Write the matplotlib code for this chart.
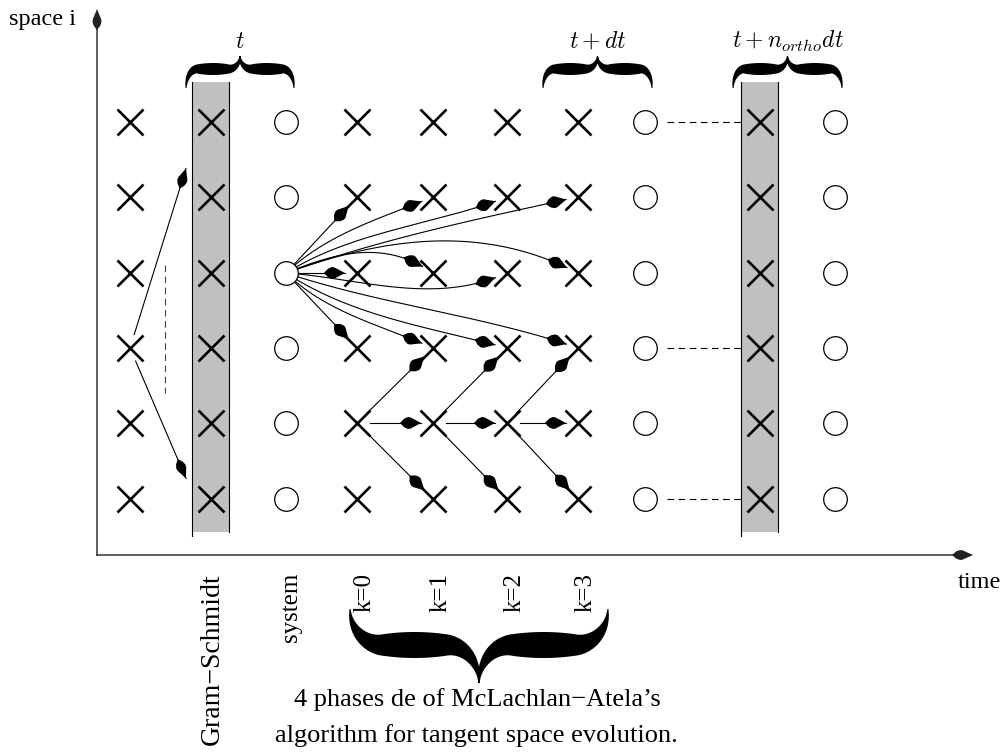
import numpy as np
import matplotlib.pyplot as plt

plt.rcParams['font.family'] = ['Liberation Serif', 'DejaVu Serif']
plt.rcParams['mathtext.fontset'] = 'cm'

# -------------------------------
# diagram data (canvas pixels, y grows downward)
# -------------------------------
col_x = [130, 211, 286, 357, 433, 507, 578, 645, 760, 835]
col_kind = ['x', 'x', 'o', 'x', 'x', 'x', 'x', 'o', 'x', 'o']
row_y = [122, 197, 273, 348, 423, 499]

gs_cols = [1, 8]            # Gram-Schmidt columns (gray bands)
sys_col, sys_row = 2, 2     # node the fan starts from

# fan from the system node: target column / row, bend at 1/3 and 2/3
fan_col = [3, 4, 5, 6, 3, 4, 5, 6, 3, 4, 5, 6]
fan_row = [1, 1, 1, 1, 2, 2, 2, 2, 3, 3, 3, 3]
fan_b1 = [0, 16, 18, 9, 0, 20, -5, 35, 0, -17, -20, -7]
fan_b2 = [0, 5, -3, 4, 0, 34, -33, 50, 0, -3, -5, 8]

# McLachlan-Atela phases: (k, row 4) -> (k+1, rows 3, 4, 5)
phase_cols = [3, 4, 5]
phase_src_row = 4
phase_dst_rows = [3, 4, 5]

# projection arrows left of the first band (fractional rows)
gs_src_row = 3
gs_dst_rows = [0.62, 4.73]
gs_dash_rows = [1.9, 3.6]

# dashed links to the second band
link_rows = [0, 3, 5]

col_labels = ['Gram\u2212Schmidt', 'system', 'k=0', 'k=1', 'k=2', 'k=3']
col_label_x = [212, 291, 365, 441, 515, 586]
col_label_size = [20, 18, 18, 18, 18, 18]

brace_labels = [r'$t$', r'$t + dt$', r'$t + n_{ortho}dt$']
brace_x0 = [186, 543, 733]
brace_x1 = [294, 652, 842]

bottom_text = ['4 phases de of McLachlan\u2212Atela\u2019s',
               'algorithm for tangent space evolution.']


def row_at(r):
    return np.interp(r, np.arange(len(row_y)), row_y)


def kite(ax, tip, direction, length, width, color='k'):
    u = np.asarray(direction, float)
    u = u / np.hypot(*u)
    v = np.array([-u[1], u[0]])
    shape = [(0, 0), (-0.5, 0.47), (-0.62, 0.5), (-0.8, 0.36), (-1, 0),
             (-0.8, -0.36), (-0.62, -0.5), (-0.5, -0.47)]
    pts = [np.asarray(tip) + a * length * u + b * width * v for a, b in shape]
    xs, ys = zip(*pts)
    ax.fill(xs, ys, color=color, lw=0, zorder=6)


def bezier(p0, p2, b1=0, b2=0, n=400):
    p0 = np.asarray(p0, float)
    p2 = np.asarray(p2, float)
    d = p2 - p0
    nrm = np.array([d[1], -d[0]]) / np.hypot(*d)
    c1 = p0 + d / 3 + b1 * nrm
    c2 = p0 + 2 * d / 3 + b2 * nrm
    t = np.linspace(0, 1, n)[:, None]
    return (1 - t) ** 3 * p0 + 3 * (1 - t) ** 2 * t * c1 + 3 * (1 - t) * t ** 2 * c2 + t ** 3 * p2


def draw_arrow(ax, pts, trim0, trim1, head_len=21, head_w=12):
    d0 = np.hypot(*(pts - pts[0]).T)
    d1 = np.hypot(*(pts - pts[-1]).T)
    seg = pts[(d0 >= trim0) & (d1 >= trim1)]
    ax.plot(seg[:, 0], seg[:, 1], color='k', lw=0.8, zorder=3)
    tip = seg[-1]
    dist = np.hypot(*(seg - tip).T)
    back = seg[np.argmin(np.abs(dist - 0.6 * head_len))]
    kite(ax, tip, tip - back, head_len, head_w)


def brace(ax, x0, x1, y_end, y_body, y_tip, thick, hook=0.22, n=300):
    u = np.linspace(0, 1, n)
    f1 = np.where(u < hook, np.sqrt(np.clip(1 - (1 - u / hook) ** 2, 0, 1)), 1.0)
    v = (u - (1 - hook)) / hook
    f2 = np.where(u > 1 - hook, 1 - np.sqrt(np.clip(1 - v ** 2, 0, 1)), 0.0)
    xm = (x0 + x1) / 2
    xs = x0 + u * (xm - x0)
    ys = y_end + (y_body - y_end) * f1 + (y_tip - y_body) * f2
    w = thick * np.sin(np.pi * u) ** 0.6 + 1.0
    dx, dy = np.gradient(xs), np.gradient(ys)
    L = np.hypot(dx, dy)
    nx, ny = -dy / L, dx / L
    ax_, ay_ = xs + nx * w / 2, ys + ny * w / 2
    bx_, by_ = xs - nx * w / 2, ys - ny * w / 2
    px = np.concatenate([ax_, (2 * xm - ax_)[::-1], 2 * xm - bx_, bx_[::-1]])
    py = np.concatenate([ay_, ay_[::-1], by_, by_[::-1]])
    ax.fill(px, py, color='k', lw=0, zorder=6)


fig = plt.figure(figsize=(10.04, 7.52), dpi=100)
ax = fig.add_axes([0, 0, 1, 1])
ax.set_xlim(0, 1004)
ax.set_ylim(752, 0)
ax.axis('off')

# axes of the sketch
axis_x0, axis_y0 = 97, 555
ax.plot([axis_x0, axis_x0], [axis_y0, 20], color='#333333', lw=1.1, zorder=2)
kite(ax, (axis_x0, 9), (0, -1), 21, 9, color='#222222')
ax.plot([axis_x0, 960], [axis_y0, axis_y0], color='#333333', lw=1.1, zorder=2)
kite(ax, (973, axis_y0), (1, 0), 21, 10, color='#222222')
ax.text(9, 20, 'space i', fontsize=17.5, ha='left', va='center')
ax.text(958, 583, 'time', fontsize=17.5, ha='left', va='center')

# gray Gram-Schmidt bands
band_top, band_bot = 82, 532
for c in gs_cols:
    xl, xr = col_x[c] - 19, col_x[c] + 18
    ax.fill_between([xl, xr], band_top, band_bot, color='#c0c0c0', lw=0, zorder=1)
    ax.plot([xl, xl], [band_top, band_bot + 4], color='k', lw=0.8, zorder=2)
    ax.plot([xr, xr], [band_top, band_bot], color='k', lw=0.8, zorder=2)

# nodes
for c, kind in enumerate(col_kind):
    xs = [col_x[c]] * len(row_y)
    if kind == 'x':
        ax.plot(xs, row_y, ls='none', marker='x', ms=18.5, mew=1.9, color='k', zorder=4)
    else:
        ax.plot(xs, row_y, ls='none', marker='o', ms=17, mew=0.9,
                mfc='white', mec='k', zorder=5)

# fan from the system node
src = (col_x[sys_col], row_y[sys_row])
for c, r, b1, b2 in zip(fan_col, fan_row, fan_b1, fan_b2):
    pts = bezier(src, (col_x[c], row_y[r]), b1, b2)
    draw_arrow(ax, pts, 0, 12)

# phase-to-phase arrows
for c in phase_cols:
    for r in phase_dst_rows:
        pts = bezier((col_x[c], row_y[phase_src_row]), (col_x[c + 1], row_y[r]))
        draw_arrow(ax, pts, 13, 12)

# arrows into the first Gram-Schmidt band
gs_src = (col_x[0], row_y[gs_src_row])
for r in gs_dst_rows:
    pts = bezier(gs_src, (col_x[gs_cols[0]] - 25, row_at(r)))
    draw_arrow(ax, pts, 14, 0, head_len=21, head_w=10)
ax.plot([165, 165], [row_at(gs_dash_rows[0]), row_at(gs_dash_rows[1])],
        color='#444444', lw=0.8, dashes=(6, 4), zorder=2)

# dashed links to the second band
for r in link_rows:
    ax.plot([col_x[7] + 22, col_x[8] - 19], [row_y[r]] * 2,
            color='k', lw=0.8, dashes=(6, 4), zorder=2)

# top braces with time labels
for x0, x1, lab in zip(brace_x0, brace_x1, brace_labels):
    brace(ax, x0, x1, 88, 69, 56, 11)
    ax.text((x0 + x1) / 2, 48, lab, fontsize=17, ha='center', va='baseline')

# column labels below the time axis
for x, lab, fs in zip(col_label_x, col_labels, col_label_size):
    ax.text(x, 573, lab, fontsize=fs, rotation=90, ha='center', va='top')

# big brace under the k phases
brace(ax, 350, 608, 609, 645, 683, 25, hook=0.26)
ax.text(477, 700, bottom_text[0], fontsize=19, ha='center', va='center')
ax.text(476, 736, bottom_text[1], fontsize=19, ha='center', va='center')

fig.savefig('out.png', dpi=100)
